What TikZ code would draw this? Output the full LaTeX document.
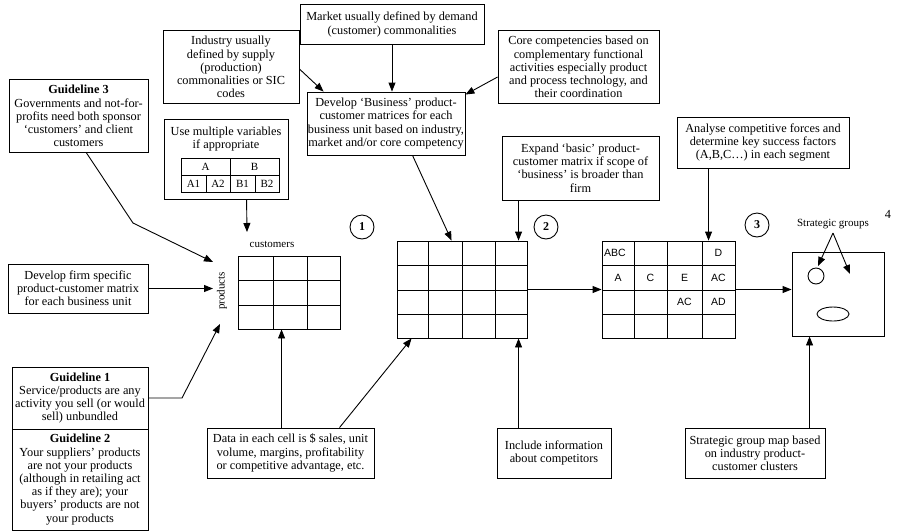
\documentclass[tikz,border=0pt]{standalone}
\usepackage{fontspec}
\setmainfont{Liberation Serif}
\newfontfamily\cellsans{Liberation Sans}
\usetikzlibrary{arrows.meta,calc}
\newcommand\boxfont{\fontsize{12.3}{13.2}\selectfont}
\tikzset{
  box/.style={draw, line width=0.9pt, align=center, inner sep=0pt, font=\boxfont},
  arr/.style={line width=0.9pt, -{Triangle[length=9pt,width=7pt]}},
  ln/.style={line width=0.9pt},
  grid/.style={line width=0.8pt},
  mat/.style={draw, line width=0.9pt, inner sep=0pt},
  lbl/.style={font=\fontsize{11}{12}\selectfont, inner sep=0pt},
  cell/.style={font=\cellsans\fontsize{10.5}{12}\selectfont, inner sep=0pt},
  num/.style={circle, draw, line width=0.9pt, minimum size=24pt, inner sep=0pt, font=\bfseries\fontsize{12}{12}\selectfont}
}
\begin{document}
\begin{tikzpicture}[x=1pt,y=-1pt]
\useasboundingbox (0,0) rectangle (897,531);

% top boxes
\node[box, minimum width=184, minimum height=40] (market) at (392,24.5)
  {Market usually defined by demand\\(customer) commonalities};
\node[box, minimum width=136, minimum height=73] (industry) at (231,67)
  {Industry usually\\defined by supply\\(production)\\commonalities or SIC\\codes};
\node[box, minimum width=161, minimum height=73] (core) at (578.5,67)
  {Core competencies based on\\complementary functional\\activities especially product\\and process technology, and\\their coordination};
\node[box, minimum width=158, minimum height=63] (develop) at (386,123.5)
  {Develop ‘Business’ product-\\customer matrices for each\\business unit based on industry,\\market and/or core competency};
\node[box, minimum width=139, minimum height=73] (g3) at (78.5,116)
  {\textbf{Guideline 3}\\Governments and not-for-\\profits need both sponsor\\‘customers’ and client\\customers};
\node[box, minimum width=157, minimum height=64] (expand) at (580.5,168)
  {Expand ‘basic’ product-\\customer matrix if scope of\\‘business’ is broader than\\firm};
\node[box, minimum width=172, minimum height=51] (analyse) at (763,142.5)
  {Analyse competitive forces and\\determine key success factors\\(A,B,C…) in each segment};

% use multiple variables box with small table
\node[box, minimum width=124, minimum height=80] (use) at (226,159) {};
\node[font=\boxfont, align=center, inner sep=0pt] (usetxt) at (226,139) {Use multiple variables\\if appropriate};
\draw[grid] (181,158) rectangle (279,192);
\draw[grid] (181,175) -- (279,175);
\draw[grid] (230,158) -- (230,192);
\draw[grid] (206,175) -- (206,192);
\draw[grid] (255,175) -- (255,192);
\node[lbl] (tA) at (205.5,167) {A};
\node[lbl] (tB) at (254.5,167) {B};
\node[lbl] (tA1) at (193.5,184) {A1};
\node[lbl] (tA2) at (218,184) {A2};
\node[lbl] (tB1) at (242.5,184) {B1};
\node[lbl] (tB2) at (267,184) {B2};

% left boxes
\node[box, minimum width=140, minimum height=49] (devfirm) at (78,288.5)
  {Develop firm specific\\product-customer matrix\\for each business unit};
\node[box, minimum width=136, minimum height=62] (g1) at (80,398)
  {\textbf{Guideline 1}\\Service/products are any\\activity you sell (or would\\sell) unbundled};
\node[box, minimum width=136, minimum height=101] (g2) at (80,479.5)
  {\textbf{Guideline 2}\\Your suppliers’ products\\are not your products\\(although in retailing act\\as if they are); your\\buyers’ products are not\\your products};

% bottom boxes
\node[box, minimum width=167, minimum height=50] (data) at (290.5,453)
  {Data in each cell is \$ sales, unit\\volume, margins, profitability\\or competitive advantage, etc.};
\node[box, minimum width=114, minimum height=50] (include) at (554,453)
  {Include information\\about competitors};
\node[box, minimum width=140, minimum height=50] (sgmap) at (755,453)
  {Strategic group map based\\on industry product-\\customer clusters};

% matrix 1
\node[mat, minimum width=102, minimum height=73] (m1) at (289,292.5) {};
\draw[grid] (273,256) -- (273,329) (307,256) -- (307,329)
            (238,280) -- (340,280) (238,305) -- (340,305);
\node[lbl] (cust) at (272,244) {customers};
\node[lbl, rotate=90] (prod) at (222,291) {products};

% matrix 2
\node[mat, minimum width=130, minimum height=97] (m2) at (462,289.5) {};
\draw[grid] (428,241) -- (428,338) (462,241) -- (462,338) (495,241) -- (495,338)
            (397,265) -- (527,265) (397,290) -- (527,290) (397,314) -- (527,314);

% matrix 3
\node[mat, minimum width=133, minimum height=97] (m3) at (668.5,289.5) {};
\draw[grid] (634,241) -- (634,338) (667,241) -- (667,338) (702,241) -- (702,338)
            (602,265) -- (735,265) (602,290) -- (735,290) (602,314) -- (735,314);
\node[cell, anchor=west] (cABC) at (604,253) {ABC};
\node[cell] (cD) at (718.5,253) {D};
\node[cell] (cA) at (618,277.5) {A};
\node[cell] (cC) at (650.5,277.5) {C};
\node[cell] (cE) at (684.5,277.5) {E};
\node[cell] (cAC1) at (718.5,277.5) {AC};
\node[cell] (cAC2) at (684.5,302) {AC};
\node[cell] (cAD) at (718.5,302) {AD};

% strategic groups
\node[mat, minimum width=92, minimum height=84] (sg) at (838,294) {};
\draw[ln] (816,276) circle[radius=8pt];
\draw[ln] (833,314) ellipse[x radius=16pt, y radius=7pt];
\node[lbl] (sglbl) at (833,224) {Strategic groups};
\coordinate (apex) at (833,233);
\coordinate (sgL) at (818,266);
\coordinate (sgR) at (850,274);
\draw[arr] (apex) -- (sgL);
\draw[arr] (apex) -- (sgR);

% step numbers
\node[num] (n1) at (362,227) {1};
\node[num] (n2) at (546,227) {2};
\node[num] (n3) at (757,225) {3};
\node[font=\boxfont, inner sep=0pt] (n4) at (888,214) {4};

% connectors at top
\draw[arr] (market.south) -- (market.south |- develop.north);
\draw[arr] ($(industry.east)+(0,2)$) -- ($(develop.north west)+(17,0)$);
\draw[arr] ($(core.west)+(0,10)$) -- ($(develop.north east)+(0,3)$);
\draw[arr] ($(develop.south west)+(106,0)$) -- ($(m2.north west)+(55,0)$);
\draw[arr] ($(expand.south west)+(17,0)$) -- ($(m2.north west)+(122,0)$);
\draw[arr] ($(analyse.south west)+(32,0)$) -- ($(m3.north west)+(107,0)$);

% matrix flow
\draw[arr] (m2.east) -- (m3.west);
\draw[arr] (m3.east) -- (m3.east -| sg.west);

% into products
\coordinate (useend) at (247,232);
\draw[arr] ($(use.south west)+(83,0)$) -- (useend);
\coordinate (pG3) at (213,262);
\coordinate (pDev) at (213,288.5);
\coordinate (pG1) at (220,324);
\draw[arr] ($(g3.south)+(8,0)$) -- (133,223) -- (pG3);
\draw[arr] (devfirm.east) -- (pDev);
\draw[arr] (g1.east) -- (182,398) -- (pG1);

% bottom connectors
\draw[arr] ($(data.north west)+(75,0)$) -- ($(m1.south west)+(44,0)$);
\draw[arr] ($(data.north west)+(133,0)$) -- ($(m2.south west)+(15,0)$);
\draw[arr] ($(include.north west)+(22,0)$) -- ($(m2.south west)+(122,0)$);
\draw[arr] ($(sgmap.north west)+(125,0)$) -- ($(sg.south west)+(18,0)$);
\end{tikzpicture}
\end{document}
